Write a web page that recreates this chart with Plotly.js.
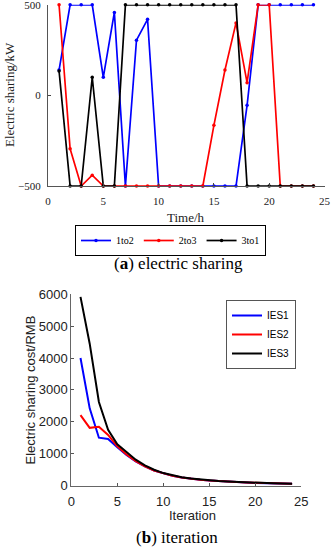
<!DOCTYPE html>
<html>
<head>
<meta charset="utf-8">
<script src="https://cdn.plot.ly/plotly-3.0.1.min.js"></script>
<style>html,body{margin:0;padding:0;background:#fff;}#chart{width:336px;height:550px;}</style>
</head>
<body>
<div id="chart"></div>
<script>
// ---- (a) electric sharing ----
var hours = [1,2,3,4,5,6,7,8,9,10,11,12,13,14,15,16,17,18,19,20,21,22,23,24];
var share1to2 = [140,500,500,500,100,458,-500,305,420,-500,-500,-500,-500,-500,-500,-500,-500,-55,500,500,500,500,500,500];
var share2to3 = [500,-295,-500,-440,-500,-500,-500,-500,-500,-500,-500,-500,-500,-500,-165,140,400,70,500,500,-500,-500,-500,-500];
var share3to1 = [135,-500,-500,100,-500,-500,500,500,500,500,500,500,500,500,500,500,500,-500,-500,-500,-500,-500,-500,-500];
var shareNames = ['1to2','2to3','3to1'];

// ---- (b) iteration ----
var iters = [1,2,3,4,5,6,7,8,9,10,11,12,13,14,15,16,17,18,19,20,21,22,23,24];
var costIES1 = [4000,2420,1500,1460,1200,960,760,600,470,375,302,250,210,178,155,135,118,104,92,82,73,66,60,55];
var costIES2 = [2210,1810,1845,1585,1230,970,765,602,472,377,303,251,211,179,156,136,119,105,93,83,74,67,61,56];
var costIES3 = [5920,4450,2620,1750,1290,1040,810,630,495,390,315,262,220,186,160,140,123,108,96,85,76,69,63,58];
var costNames = ['IES1','IES2','IES3'];

var colors = ['#0000ff','#ff0000','#000000'];
var serif = 'Liberation Serif, Times New Roman, serif';
var sans = 'Liberation Sans, Arial, sans-serif';

var traces = [];
[share1to2, share2to3, share3to1].forEach(function(s,i){
  traces.push({x:hours, y:s, name:shareNames[i], type:'scatter', mode:'lines+markers',
    line:{color:colors[i], width:1.7}, marker:{color:colors[i], size:3.5},
    xaxis:'x', yaxis:'y', legend:'legend', cliponaxis:false});
});
[costIES1, costIES2, costIES3].forEach(function(s,i){
  traces.push({x:iters, y:s, name:costNames[i], type:'scatter', mode:'lines',
    line:{color:colors[i], width:2}, xaxis:'x2', yaxis:'y2', legend:'legend2', cliponaxis:false});
});

var W=336, H=550;
function fx(p){return p/W;}
function fy(p){return 1-p/H;}

var layout = {
  width:W, height:H, margin:{l:0,r:0,t:0,b:0},
  paper_bgcolor:'#fff', plot_bgcolor:'#fff', showlegend:true,
  xaxis:{domain:[fx(48),fx(324.5)], range:[0,25], tickvals:[0,5,10,15,20,25],
    ticks:'inside', ticklen:3, tickcolor:'#444', showline:true, linecolor:'#555', linewidth:1,
    showgrid:false, zeroline:false, tickfont:{family:serif,size:11,color:'#222'}, ticklabelstandoff:5,
    ticklabeloverflow:'allow', anchor:'y'},
  yaxis:{domain:[fy(186),fy(4.7)], range:[-500,500.5], tickvals:[-500,0,500],
    ticktext:['\u2212500','0','500'],
    ticks:'inside', ticklen:3, tickcolor:'#444', showline:true, linecolor:'#555', linewidth:1,
    showgrid:false, zeroline:false, tickfont:{family:serif,size:11,color:'#222'}, ticklabelstandoff:4,
    ticklabeloverflow:'allow', anchor:'x'},
  xaxis2:{domain:[fx(71.3),fx(301.3)], range:[0,25], tickvals:[0,5,10,15,20,25],
    ticks:'inside', ticklen:3, tickcolor:'#555', showline:true, linecolor:'#666', linewidth:1,
    showgrid:false, zeroline:false, tickfont:{family:sans,size:13,color:'#222'}, ticklabelstandoff:4, anchor:'y2'},
  yaxis2:{domain:[fy(485.5),fy(294.3)], range:[0,6000], tickvals:[0,1000,2000,3000,4000,5000,6000],
    ticks:'inside', ticklen:3, tickcolor:'#555', showline:true, linecolor:'#666', linewidth:1,
    showgrid:false, zeroline:false, tickfont:{family:sans,size:13,color:'#222'},
    ticklabeloverflow:'allow', anchor:'x2'},
  legend:{orientation:'h', x:fx(75), xanchor:'left', y:fy(225), yanchor:'top',
    bordercolor:'#000', borderwidth:1, bgcolor:'#fff', font:{family:serif,size:10,color:'#000'},
    tracegroupgap:0},
  legend2:{orientation:'v', x:fx(226), xanchor:'left', y:fy(300), yanchor:'top',
    bordercolor:'#555', borderwidth:1, bgcolor:'#fff', font:{family:sans,size:10,color:'#000'},
    tracegroupgap:0},
  annotations:[
    {text:'Electric sharing/kW', xref:'paper', yref:'paper', x:fx(9), y:fy(95), textangle:-90,
      showarrow:false, font:{family:serif,size:13,color:'#222'}, xanchor:'center', yanchor:'middle'},
    {text:'Time/h', xref:'paper', yref:'paper', x:fx(186), y:fy(217), showarrow:false,
      font:{family:serif,size:13,color:'#222'}, xanchor:'center', yanchor:'middle'},
    {text:'(<b>a</b>) electric sharing', xref:'paper', yref:'paper', x:fx(178), y:fy(263), showarrow:false,
      font:{family:serif,size:17,color:'#000'}, xanchor:'center', yanchor:'middle'},
    {text:'Electric sharing cost/RMB', xref:'paper', yref:'paper', x:fx(29.5), y:fy(390), textangle:-90,
      showarrow:false, font:{family:sans,size:13,color:'#222'}, xanchor:'center', yanchor:'middle'},
    {text:'Iteration', xref:'paper', yref:'paper', x:fx(192), y:fy(515), showarrow:false,
      font:{family:sans,size:13,color:'#222'}, xanchor:'center', yanchor:'middle'},
    {text:'(<b>b</b>) iteration', xref:'paper', yref:'paper', x:fx(177), y:fy(537), showarrow:false,
      font:{family:serif,size:17,color:'#000'}, xanchor:'center', yanchor:'middle'}
  ]
};

Plotly.newPlot('chart', traces, layout, {staticPlot:true});
</script>
</body>
</html>
